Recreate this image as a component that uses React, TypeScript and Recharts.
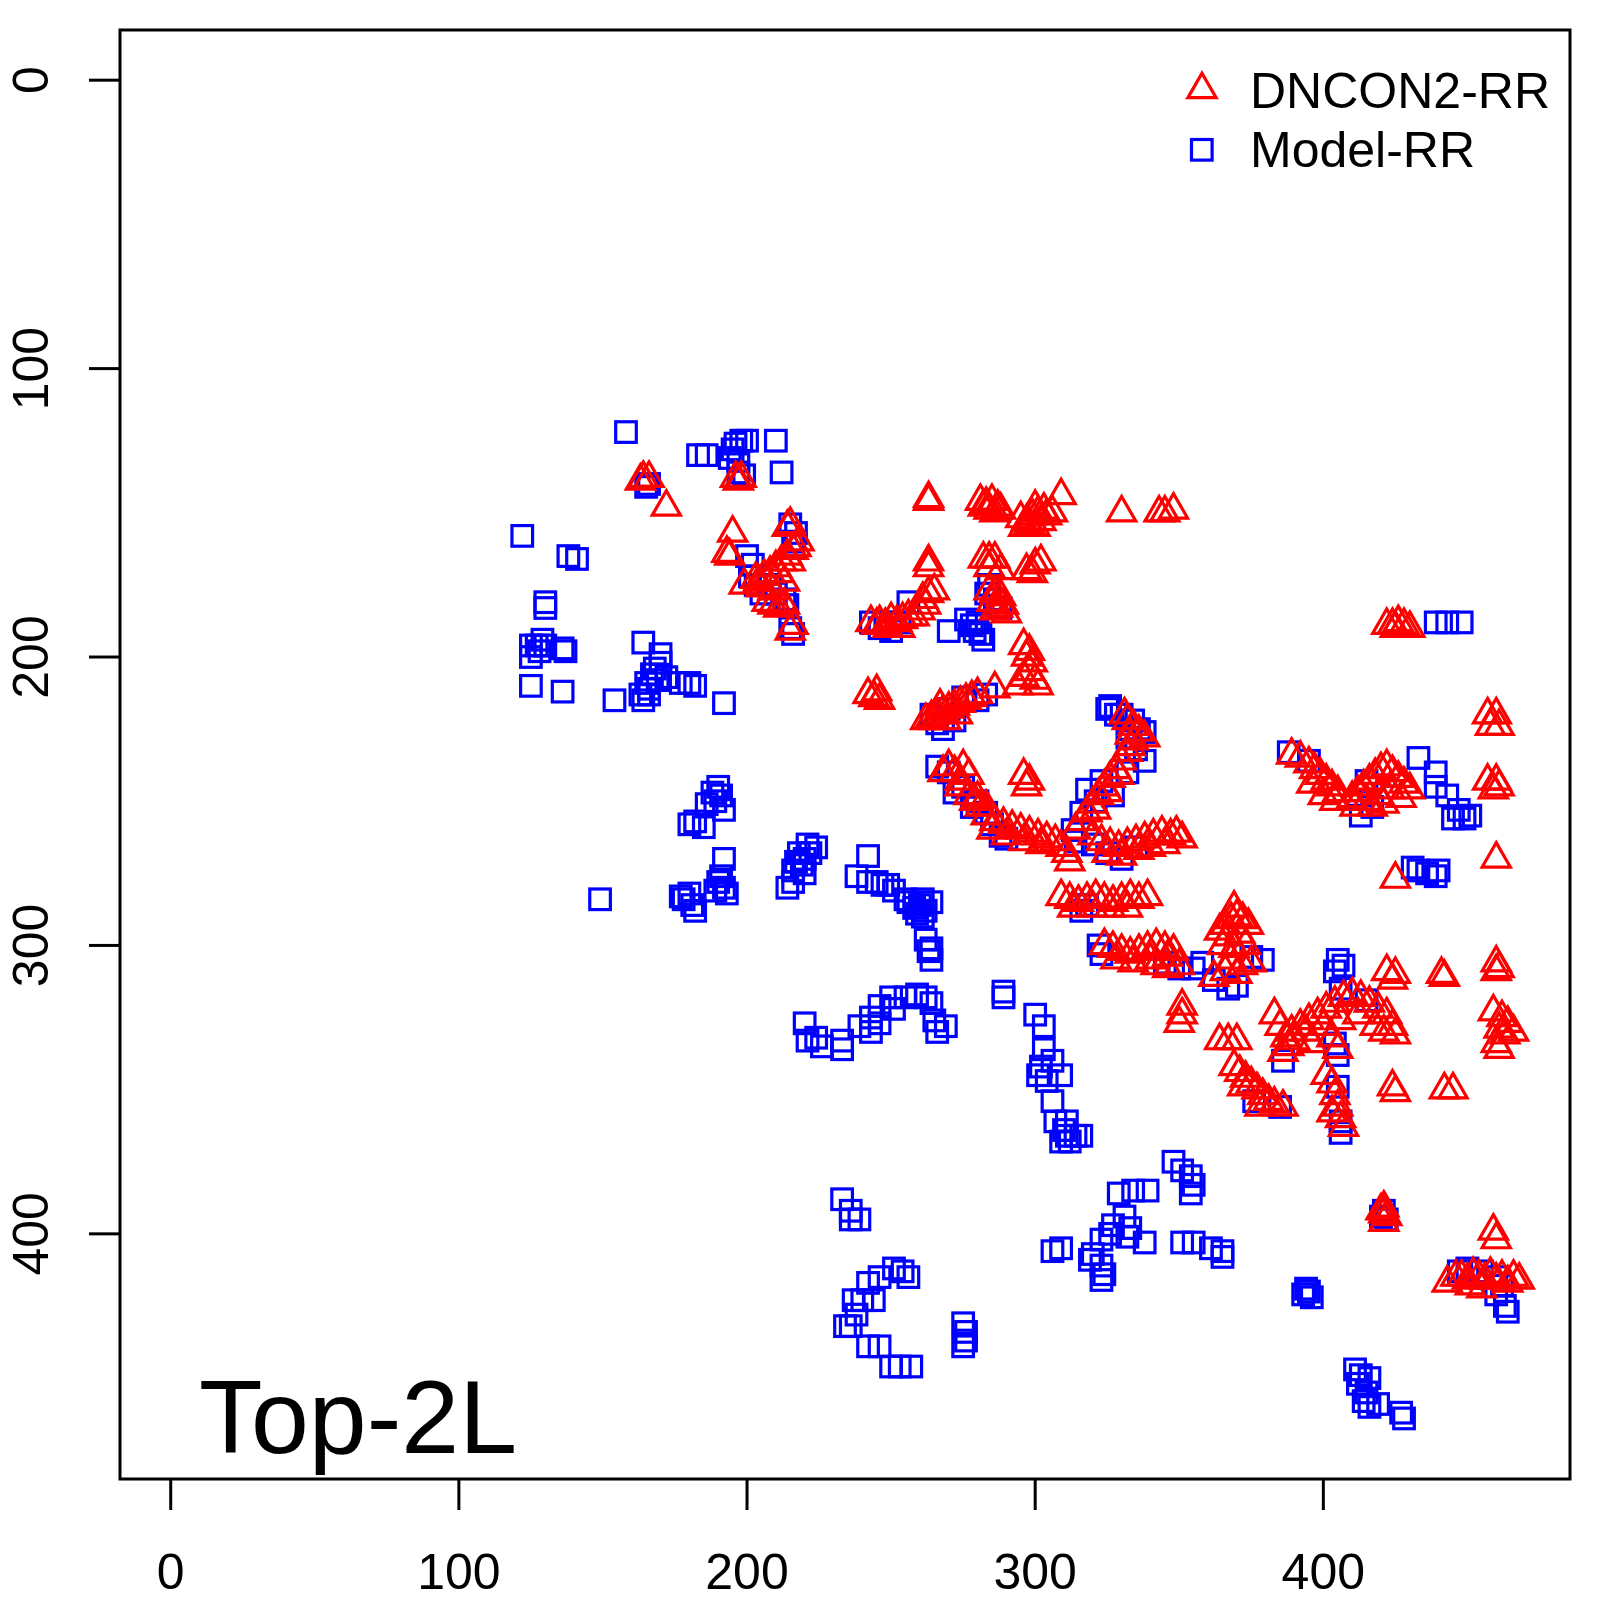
import { ScatterChart, Scatter, XAxis, YAxis, ReferenceArea } from 'recharts'

const X_DOMAIN = [-17.6, 485.6]
const Y_DOMAIN = [-17.4, 485.0]
const X_TICKS = [0, 100, 200, 300, 400]
const Y_TICKS = [0, 100, 200, 300, 400]

const SERIES_NAMES = ['DNCON2-RR', 'Model-RR']
const PANEL_LABEL = 'Top-2L'

// Model-RR (blue squares), [residue i, residue j]
const SQ_UPPER_LEFT = [
  [158, 122], [183, 130], [186, 130], [196, 126], [198, 125], [200, 125], [195, 128], [194, 131],
  [197, 132], [197, 136], [199, 137], [210, 125], [212, 136], [166, 140], [165, 141],
]
const SQ_LEFT = [
  [122, 158], [138, 165], [141, 166], [130, 183], [130, 181], [125, 196], [127, 196], [128, 198],
  [130, 196], [136, 197], [137, 198], [125, 200], [129, 194], [125, 210], [136, 212],
  [164, 195], [170, 199], [170, 202], [165, 209], [166, 211], [163, 213], [164, 215], [167, 206],
  [172, 207], [177, 209], [180, 209], [182, 210], [154, 215], [192, 216], [168, 204], [166, 213], [169, 208],
]
const SQ_MID_UPPER = [
  [200, 165], [202, 168], [201, 172], [203, 175], [205, 178], [213, 180], [214, 182], [215, 154],
  [217, 157], [216, 160], [216, 192], [215, 190], [208, 175], [210, 178],
  [246, 190], [250, 191], [253, 188], [256, 181], [248, 188], [243, 188],
  [270, 191], [278, 189], [279, 191], [281, 192], [276, 187], [282, 194], [280, 188],
  [283, 178], [286, 180], [284, 175], [288, 183],
  [264, 220], [266, 223], [270, 218], [275, 214], [280, 215], [272, 222], [283, 213], [268, 225],
]
const SQ_CENTER = [
  [325, 218], [330, 220], [334, 222], [336, 225], [332, 228], [338, 226], [326, 217], [328, 220],
  [333, 225], [335, 232], [338, 236], [332, 240],
  [266, 238], [270, 240], [275, 245], [280, 250], [283, 254], [272, 247], [278, 252], [285, 258],
  [288, 262], [290, 263],
  [318, 246], [321, 250], [316, 254], [323, 243], [327, 248], [313, 260], [314, 264], [320, 265],
  [325, 268], [330, 270], [335, 266],
  [316, 288], [318, 286], [322, 300], [323, 303],
]
const SQ_LOWER_LEFT = [
  [190, 245], [188, 247], [186, 251], [182, 257], [185, 259], [192, 253], [189, 250], [191, 248], [180, 258],
  [192, 270], [190, 278], [192, 280], [189, 281], [191, 276], [178, 284], [181, 286], [177, 283],
  [182, 288], [180, 282], [193, 282],
  [149, 284],
  [221, 265], [218, 268], [217, 271], [224, 266], [214, 280], [216, 278], [220, 275], [222, 268],
  [219, 272], [220, 270], [216, 274],
  [242, 269], [238, 276], [242, 278], [245, 278], [249, 279], [251, 281], [247, 279],
  [256, 285], [258, 287], [260, 286], [262, 288], [259, 289], [261, 284], [255, 284], [264, 285], [261, 290],
  [262, 298], [264, 301], [264, 305], [263, 302],
  [289, 316], [289, 318],
]
const SQ_CHAIN = [
  [220, 327], [224, 332], [221, 333], [233, 333], [239, 328], [243, 325], [246, 321], [250, 318],
  [259, 317], [264, 320], [265, 326], [269, 328], [266, 330], [226, 335], [233, 336], [243, 330],
  [246, 327], [251, 322], [255, 318], [262, 318],
]
const SQ_COLUMN = [
  [300, 324], [303, 328], [303, 336], [302, 342], [304, 347], [309, 345], [306, 354], [307, 361],
  [311, 366], [314, 366], [309, 368], [311, 361], [301, 345], [306, 340], [312, 368], [316, 366], [310, 364],
]
const SQ_BOTTOM = [
  [233, 388], [236, 392], [239, 395], [236, 395],
  [254, 413], [251, 412], [246, 415], [242, 417], [240, 423], [237, 423], [244, 423], [236, 432],
  [234, 432], [238, 428], [242, 439], [246, 439], [250, 446], [253, 446], [257, 446], [256, 415],
  [275, 431], [276, 434], [276, 437], [275, 439],
  [306, 406], [309, 405], [320, 407], [323, 411], [323, 416], [319, 409], [324, 414],
  [334, 385], [329, 386], [339, 385], [331, 394], [327, 397], [326, 400], [323, 402], [333, 398],
  [338, 403], [332, 401],
  [348, 375], [351, 378], [354, 380], [355, 383], [354, 386],
  [351, 403], [355, 403], [361, 405], [365, 406], [365, 408],
]
const SQ_RIGHT = [
  [439, 188], [443, 188], [448, 188],
  [388, 233], [395, 236], [413, 255], [415, 243], [417, 252],
  [433, 235], [439, 240], [439, 245], [443, 248], [447, 253], [449, 256], [445, 256], [451, 255],
  [431, 273], [433, 274], [436, 275], [439, 276], [440, 274],
  [405, 305], [407, 307], [404, 309], [406, 315],
  [415, 319], [404, 334], [405, 338], [386, 340], [376, 354], [385, 356], [405, 349], [406, 361], [406, 365],
  [345, 306], [350, 308], [355, 308], [358, 306], [362, 312], [367, 315], [370, 314], [375, 304], [379, 305],
  [395, 420], [393, 421], [396, 422], [394, 419],
  [421, 392], [422, 395], [420, 394],
  [447, 413], [450, 412], [455, 413], [460, 415], [462, 418], [463, 425], [464, 427], [460, 421],
  [411, 447], [413, 449], [412, 452], [415, 455], [414, 458], [416, 460], [419, 459], [427, 462],
  [428, 464], [416, 450],
]

// DNCON2-RR (red triangles)
const TR_UPPER_LEFT = [
  [164, 138], [166, 138], [163, 139], [172, 148], [196, 138], [198, 138], [197, 139],
  [195, 157], [193, 164], [194, 165], [199, 175], [214, 155], [215, 154], [217, 162], [216, 163],
  [214, 165], [212, 167], [210, 169], [208, 171], [206, 172], [204, 174], [203, 173], [211, 171],
  [209, 177], [213, 174], [207, 181], [209, 182], [211, 183], [213, 182], [215, 191], [216, 189],
  [218, 160], [215, 167], [205, 176],
]
const TR_TOP = [
  [263, 145], [263, 146],
  [281, 146], [283, 147], [285, 146], [287, 148], [284, 149], [286, 150], [282, 148], [288, 149],
  [295, 152], [297, 153], [299, 151], [301, 150], [303, 149], [298, 154], [300, 155], [302, 153],
  [296, 155], [304, 151], [306, 150], [300, 148],
  [309, 144], [330, 150], [343, 150], [345, 150], [348, 149],
  [263, 167], [263, 169],
  [282, 166], [284, 166], [286, 166], [284, 169], [288, 170],
  [297, 170], [300, 168], [302, 167], [299, 171],
  [261, 180], [262, 182], [263, 178], [265, 177],
  [243, 188], [246, 188], [248, 189], [250, 187], [252, 188], [254, 187], [256, 186], [258, 186],
  [260, 184], [253, 190], [249, 190], [245, 189],
  [284, 177], [286, 178], [288, 179], [285, 181], [287, 183], [289, 182], [286, 184], [290, 185],
  [296, 196], [298, 198], [297, 200], [299, 202], [298, 205], [296, 207], [300, 208], [301, 210],
  [294, 210], [286, 211],
]
const TR_MID = [
  [242, 213], [244, 214], [246, 215], [245, 212],
  [264, 221], [266, 220], [268, 219], [270, 218], [272, 217], [274, 216], [276, 215], [278, 214],
  [265, 222], [269, 222], [273, 220], [262, 222], [280, 213], [267, 217],
  [331, 220], [332, 222], [334, 224], [336, 226], [338, 228], [333, 227],
  [270, 238], [272, 240], [275, 238], [277, 241], [274, 243], [268, 240],
  [274, 245], [277, 248], [279, 250], [281, 252], [283, 255], [286, 257], [289, 258], [292, 259],
  [295, 260], [298, 261], [301, 262], [304, 263], [307, 264], [309, 266], [311, 268], [312, 271],
  [285, 260], [290, 262], [296, 264], [302, 265], [280, 249], [283, 252],
  [296, 241], [298, 243], [297, 245],
  [330, 236], [328, 239], [326, 242], [324, 245], [322, 248], [320, 251], [318, 254], [316, 257],
  [314, 260], [332, 233], [333, 231], [334, 229], [329, 241], [325, 247], [321, 253],
  [320, 262], [323, 264], [326, 265], [329, 266], [332, 265], [335, 264], [338, 263], [341, 262],
  [344, 261], [347, 262], [325, 268], [330, 269], [336, 267], [340, 266], [345, 265], [349, 261], [351, 263],
]
const TR_LOWER = [
  [309, 283], [312, 284], [315, 285], [318, 284], [321, 283], [324, 284], [327, 285], [330, 284],
  [333, 283], [336, 284], [339, 283], [313, 287], [320, 287], [326, 287], [332, 287],
  [324, 300], [327, 301], [330, 302], [333, 303], [336, 302], [339, 301], [342, 300], [345, 301],
  [348, 302], [328, 305], [334, 306], [340, 305], [346, 304],
  [342, 307], [346, 308], [350, 307],
  [364, 295], [366, 293], [368, 291], [370, 290], [372, 291], [374, 293], [367, 297], [371, 296],
  [365, 300], [369, 301], [373, 300], [368, 305], [372, 307], [370, 310], [366, 309], [375, 306],
  [362, 311], [369, 287],
  [351, 321], [351, 324], [350, 327],
  [364, 333], [367, 333], [370, 333],
  [369, 342], [371, 344], [373, 346], [375, 348], [377, 350], [379, 352], [381, 354], [383, 355],
  [386, 356], [372, 349], [378, 356],
]
const TR_RIGHT = [
  [383, 324], [385, 328], [387, 332], [389, 330], [392, 328], [395, 326], [398, 324], [401, 322],
  [404, 320], [407, 318], [410, 317], [413, 318], [416, 320], [419, 322], [422, 324], [424, 328],
  [425, 331], [421, 330], [418, 328], [412, 324], [406, 326], [400, 328], [394, 330], [388, 335],
  [396, 334], [386, 337], [390, 333], [403, 332], [405, 336],
  [401, 345], [403, 348], [404, 352], [405, 356], [406, 360], [407, 363], [403, 358],
  [422, 309], [425, 310], [424, 312],
  [441, 310], [442, 311],
  [460, 306], [460, 309], [461, 308],
  [459, 323], [462, 325], [464, 327], [461, 329], [463, 331], [460, 334], [466, 330], [461, 336],
  [424, 349], [425, 351], [442, 350], [445, 350],
  [422, 189], [424, 189], [426, 188], [428, 189], [430, 190], [425, 190],
  [457, 220], [460, 220], [458, 224], [461, 224],
  [457, 243], [460, 243], [459, 246], [461, 245],
  [389, 234], [392, 235], [395, 237], [397, 239], [399, 241], [401, 243], [403, 245], [405, 247],
  [400, 248], [396, 244], [404, 250],
  [410, 249], [412, 247], [414, 245], [416, 243], [418, 241], [420, 239], [422, 238], [424, 240],
  [426, 242], [428, 244], [430, 246], [415, 250], [419, 248], [423, 246], [427, 249], [411, 252],
  [417, 252], [421, 251],
  [425, 277], [460, 270],
  [421, 391], [421, 393], [422, 394], [420, 392], [421, 396],
  [443, 417], [446, 415], [448, 415], [450, 416], [452, 414], [454, 415], [456, 416], [458, 414],
  [460, 416], [462, 415], [464, 417], [466, 415], [468, 416], [459, 399], [460, 402], [455, 419], [451, 418],
]

const toPoints = (...groups: number[][][]) => groups.flat().map(([x, y]) => ({ x, y }))

const squares = toPoints(SQ_UPPER_LEFT, SQ_LEFT, SQ_MID_UPPER, SQ_CENTER, SQ_LOWER_LEFT, SQ_CHAIN, SQ_COLUMN, SQ_BOTTOM, SQ_RIGHT)
const triangles = toPoints(TR_UPPER_LEFT, TR_TOP, TR_MID, TR_LOWER, TR_RIGHT)

const FONT = '"Liberation Sans", Arial, Helvetica, sans-serif'
const RED = '#ff0000'
const BLUE = '#0000ff'
const MARK_STROKE = 3.2

const trianglePoints = (cx: number, cy: number) => {
  const r = 16.3
  const xc = 14.1
  const yc = 8.15
  return `${cx},${cy - r} ${cx + xc},${cy + yc} ${cx - xc},${cy + yc}`
}

const SquareShape = (props: any) => {
  const { cx, cy } = props
  const h = 10.3
  return <rect x={cx - h} y={cy - h} width={h * 2} height={h * 2} fill="none" stroke={BLUE} strokeWidth={MARK_STROKE} />
}

const TriangleShape = (props: any) => {
  const { cx, cy } = props
  return <polygon points={trianglePoints(cx, cy)} fill="none" stroke={RED} strokeWidth={MARK_STROKE} />
}

const XTick = (props: any) => {
  const { x, y, payload } = props
  return (
    <text x={x} y={y + 79} textAnchor="middle" fontSize={50} fontFamily={FONT} fill="#000">
      {payload.value}
    </text>
  )
}

const YTick = (props: any) => {
  const { x, y, payload } = props
  return (
    <text transform={`translate(${x - 41}, ${y}) rotate(-90)`} textAnchor="middle" fontSize={50} fontFamily={FONT} fill="#000">
      {payload.value}
    </text>
  )
}

export default function App() {
  return (
    <div style={{ position: 'absolute', left: 0, top: 0, width: 1600, height: 1600, background: '#fff' }}>
      <ScatterChart width={1600} height={1600} margin={{ top: 30, right: 30, bottom: 0, left: 0 }}>
        <XAxis
          type="number"
          dataKey="x"
          domain={X_DOMAIN}
          ticks={X_TICKS}
          interval={0}
          allowDataOverflow
          height={121}
          tickSize={31}
          tickMargin={0}
          axisLine={false}
          tickLine={{ stroke: '#000', strokeWidth: 3 }}
          tick={<XTick />}
        />
        <YAxis
          type="number"
          dataKey="y"
          domain={Y_DOMAIN}
          ticks={Y_TICKS}
          interval={0}
          reversed
          allowDataOverflow
          width={120}
          tickSize={31}
          tickMargin={0}
          axisLine={false}
          tickLine={{ stroke: '#000', strokeWidth: 3 }}
          tick={<YTick />}
        />
        <Scatter name={SERIES_NAMES[1]} data={squares} shape={<SquareShape />} isAnimationActive={false} />
        <Scatter name={SERIES_NAMES[0]} data={triangles} shape={<TriangleShape />} isAnimationActive={false} />
        <ReferenceArea
          x1={X_DOMAIN[0]}
          x2={X_DOMAIN[1]}
          y1={Y_DOMAIN[0]}
          y2={Y_DOMAIN[1]}
          fill="none"
          fillOpacity={0}
          stroke="#000"
          strokeWidth={3}
          ifOverflow="visible"
        />
      </ScatterChart>
      <svg width={1600} height={1600} style={{ position: 'absolute', left: 0, top: 0, pointerEvents: 'none' }}>
        <polygon points={trianglePoints(1202, 89.5)} fill="none" stroke={RED} strokeWidth={MARK_STROKE} />
        <text x={1250} y={108} fontSize={50} fontFamily={FONT} fill="#000">{SERIES_NAMES[0]}</text>
        <rect x={1191.5} y={139.5} width={20.6} height={20.6} fill="none" stroke={BLUE} strokeWidth={MARK_STROKE} />
        <text x={1250} y={167} fontSize={50} fontFamily={FONT} fill="#000">{SERIES_NAMES[1]}</text>
        <text x={199} y={1453} fontSize={104} fontFamily={FONT} fill="#000">{PANEL_LABEL}</text>
      </svg>
    </div>
  )
}
